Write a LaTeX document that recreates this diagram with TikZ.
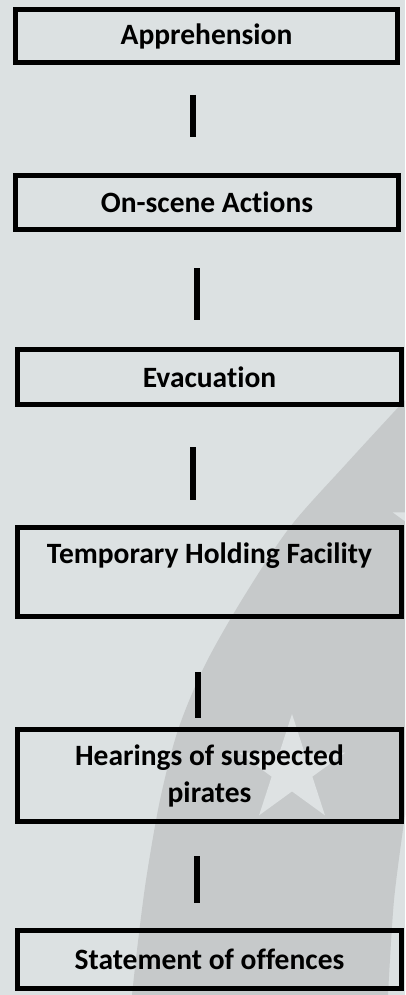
\documentclass[tikz,border=0pt]{standalone}
\usepackage{fontspec}
\setmainfont{Carlito}[RawFeature={-liga}]
\usetikzlibrary{shapes.geometric}
\definecolor{bgc}{HTML}{DCE1E2}
\definecolor{crc}{HTML}{C6C9CA}
\definecolor{starc}{HTML}{DEE2E3}
\begin{document}
\begin{tikzpicture}[x=1pt,y=-1pt,
  box/.style={draw=black, line width=5pt, inner sep=0pt, align=center,
    font=\bfseries\fontsize{29.5}{37}\selectfont},
  link/.style={draw=black, line width=6pt},
  starshape/.style={star, star points=5, star point ratio=2.618, fill=starc, draw=none, inner sep=0pt}]
\useasboundingbox (0,0) rectangle (405,995);
\begin{scope}
\clip (0,0) rectangle (405,995);
\fill[bgc] (0,0) rectangle (405,995);
\fill[crc] plot[smooth] coordinates {(405,400) (347,463) (290,527) (243,598) (205,665) (178,730) (160,800) (146,880) (137,950) (132,995)}
  -- (388,995) -- plot[smooth] coordinates {(388,995) (394,900) (405,815)} -- cycle;
\node[starshape, minimum size=112pt] (starA) at (292,770) {};
\node[starshape, minimum size=114pt] (starB) at (447,530) {};
\end{scope}

\node[box, minimum width=382pt, minimum height=53pt] (b1) at (206.5,36) {Apprehension};
\node[box, minimum width=383pt, minimum height=54pt] (b2) at (207,202.5) {On-scene Actions};
\node[box, minimum width=384pt, minimum height=55pt] (b3) at (209.5,377) {Evacuation};
\node[box, minimum width=384pt, minimum height=89pt] (b4) at (209.5,572) {Temporary Holding Facility\\\mbox{}};
\node[box, minimum width=384pt, minimum height=92pt] (b5) at (209.5,775.5) {Hearings of suspected\\pirates};
\node[box, minimum width=384pt, minimum height=58pt] (b6) at (209.5,959.5) {Statement of offences};

\coordinate (l1a) at (193,95);  \coordinate (l1b) at (193,137);
\coordinate (l2a) at (197,268); \coordinate (l2b) at (197,320);
\coordinate (l3a) at (193,447); \coordinate (l3b) at (193,500);
\coordinate (l4a) at (198,672); \coordinate (l4b) at (198,718);
\coordinate (l5a) at (197,856); \coordinate (l5b) at (197,903);
\draw[link] (l1a) -- (l1b);
\draw[link] (l2a) -- (l2b);
\draw[link] (l3a) -- (l3b);
\draw[link] (l4a) -- (l4b);
\draw[link] (l5a) -- (l5b);
\end{tikzpicture}
\end{document}
